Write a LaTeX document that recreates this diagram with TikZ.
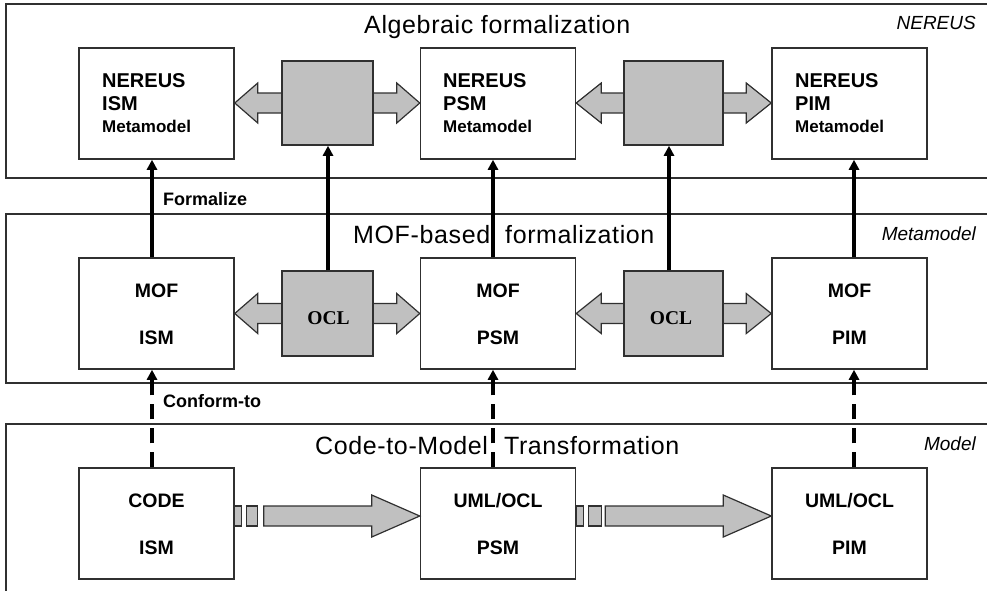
\documentclass[tikz,border=0pt]{standalone}
\usepackage{fontspec}
\setmainfont{Liberation Sans}
\newfontfamily\serifbold{Liberation Serif}
\newfontfamily\titlefont[LetterSpace=2.5]{Liberation Sans}
\usetikzlibrary{arrows.meta,calc}
\definecolor{linec}{HTML}{303030}
\definecolor{grayc}{HTML}{C0C0C0}
\newcommand\dblarr[4]{% left node, right node, gray node, head length
  \draw[garrow] (#1.east |- #3.center) -- ++(#4,-20) -- ++(0,10)
    -- ($(#2.west |- #3.center)+(-#4,-10)$) -- ++(0,-10)
    -- (#2.west |- #3.center) -- ++(-#4,20) -- ++(0,-10)
    -- ($(#1.east |- #3.center)+(#4,10)$) -- ++(0,10) -- cycle;}
\newcommand\blockarr[3]{% left node, right node, sq2 width
  \coordinate (L) at ($(#1.east)+(0,-7.5)$);
  \coordinate (R) at ($(#2.west)+(0,-7.5)$);
  \draw[garrow] ($(L)+(0,-10)$) rectangle ++(7,20);
  \draw[garrow] ($(L)+(12,-10)$) rectangle ++(#3,20);
  \draw[garrow] ($(L)+(29,-10)$) -- ($(R)+(-48,-10)$) -- ++(0,-11) -- (R)
    -- ++(-48,21) -- ++(0,-11) -- ($(L)+(29,10)$) -- cycle;}
\begin{document}
\begin{tikzpicture}[x=1pt,y=-1pt,
  layer/.style={draw=linec, line width=1.6pt},
  box/.style={draw=linec, fill=white, line width=1.5pt, minimum width=155pt, minimum height=111pt, inner sep=0pt},
  gbox/.style={draw=linec, fill=grayc, line width=1.5pt, minimum height=85pt, inner sep=0pt},
  garrow/.style={draw=linec, fill=grayc, line width=1.2pt},
  txt/.style={font=\bfseries\fontsize{20}{22}\selectfont, inner sep=0pt, anchor=base west},
  ctxt/.style={font=\bfseries\fontsize{19.5}{22}\selectfont, inner sep=0pt, anchor=base},
  mtxt/.style={font=\bfseries\fontsize{17}{20}\selectfont, inner sep=0pt, anchor=base west},
  ocl/.style={font=\serifbold\bfseries\fontsize{19.5}{22}\selectfont, inner sep=0pt, anchor=base},
  title/.style={font=\titlefont\fontsize{25}{28}\selectfont, inner sep=0pt, anchor=base west},
  tag/.style={font=\itshape\fontsize{19}{22}\selectfont, inner sep=0pt, anchor=base east},
  elbl/.style={font=\bfseries\fontsize{18}{22}\selectfont, inner sep=0pt, anchor=base west},
  up/.style={-{Triangle[width=10pt,length=10pt]}, line width=3.2pt, black},
  dashup/.style={up, dash pattern=on 15pt off 9pt, line width=3.8pt}]
\useasboundingbox (0,0) rectangle (987,590);
\clip (0,0) rectangle (987,590);
% layers
\draw[layer] (6,4) rectangle (1000,178);
\draw[layer] (6,214) rectangle (1000,383);
\draw[layer] (6,424) rectangle (1000,620);
\node[title] (t1) at (364,33) {Algebraic formalization};
\node[title] (t2) at (353,243) {MOF-based\hspace{15pt}formalization};
\node[title] (t3) at (315,454) {Code-to-Model\hspace{16pt}Transformation};
\node[tag] (g1) at (976,29) {NEREUS};
\node[tag] (g2) at (976,240) {Metamodel};
\node[tag] (g3) at (976,450) {Model};
% boxes
\node[box] (nism) at (156.5,103.5) {};
\node[box] (npsm) at (498,103.5) {};
\node[box] (npim) at (849.5,103.5) {};
\node[box] (mism) at (156.5,313.5) {};
\node[box] (mpsm) at (498,313.5) {};
\node[box] (mpim) at (849.5,313.5) {};
\node[box] (cism) at (156.5,523.5) {};
\node[box] (upsm) at (498,523.5) {};
\node[box] (upim) at (849.5,523.5) {};
% top texts
\node[txt] (a1) at (102,87) {NEREUS};
\node[txt] (a2) at (102,110) {ISM};
\node[mtxt] (a3) at (102,132) {Metamodel};
\node[txt] (b1) at (443,87) {NEREUS};
\node[txt] (b2) at (443,110) {PSM};
\node[mtxt] (b3) at (443,132) {Metamodel};
\node[txt] (c1) at (795,87) {NEREUS};
\node[txt] (c2) at (795,110) {PIM};
\node[mtxt] (c3) at (795,132) {Metamodel};
% middle texts
\node[ctxt] (d1) at (156.5,297) {MOF};
\node[ctxt] (d2) at (156.5,344) {ISM};
\node[ctxt] (e1) at (498,297) {MOF};
\node[ctxt] (e2) at (498,344) {PSM};
\node[ctxt] (f1) at (849.5,297) {MOF};
\node[ctxt] (f2) at (849.5,344) {PIM};
% bottom texts
\node[ctxt] (h1) at (156.5,507) {CODE};
\node[ctxt] (h2) at (156.5,554) {ISM};
\node[ctxt] (i1) at (498,507) {UML/OCL};
\node[ctxt] (i2) at (498,554) {PSM};
\node[ctxt] (j1) at (849.5,507) {UML/OCL};
\node[ctxt] (j2) at (849.5,554) {PIM};
% gray double arrows and boxes
\coordinate (gt1c) at (327.5,103);
\coordinate (gt2c) at (673.5,103);
\coordinate (gm1c) at (327.5,313.5);
\coordinate (gm2c) at (673.5,313.5);
\dblarr{nism}{npsm}{gt1c}{23}
\dblarr{npsm}{npim}{gt2c}{25}
\dblarr{mism}{mpsm}{gm1c}{23}
\dblarr{mpsm}{mpim}{gm2c}{25}
\node[gbox, minimum width=91pt, minimum height=84pt] (gt1) at (gt1c) {};
\node[gbox, minimum width=99pt, minimum height=84pt] (gt2) at (gt2c) {};
\node[gbox, minimum width=91pt] (gm1) at (gm1c) {};
\node[gbox, minimum width=99pt] (gm2) at (gm2c) {};
\node[ocl] (o1) at (328.5,324) {OCL};
\node[ocl] (o2) at (671,324) {OCL};
% block arrows
\blockarr{cism}{upsm}{11}
\blockarr{upsm}{upim}{13}
% vertical arrows
\draw[up] ([xshift=-4.5pt]mism.north) -- ([xshift=-4.5pt]nism.south);
\draw[up] ([xshift=-5pt]mpsm.north) -- ([xshift=-5pt]npsm.south);
\draw[up] ([xshift=4.5pt]mpim.north) -- ([xshift=4.5pt]npim.south);
\draw[up] ([xshift=0.5pt]gm1.north) -- ([xshift=0.5pt]gt1.south);
\draw[up] ([xshift=-4.5pt]gm2.north) -- ([xshift=-4.5pt]gt2.south);
\draw[dashup] ([xshift=-4.5pt]cism.north) -- ([xshift=-4.5pt]mism.south);
\draw[dashup] ([xshift=-5pt]upsm.north) -- ([xshift=-5pt]mpsm.south);
\draw[dashup] ([xshift=4.5pt]upim.north) -- ([xshift=4.5pt]mpim.south);
\node[elbl] (fl) at (163,205) {Formalize};
\node[elbl] (cl) at (163,407) {Conform-to};
\end{tikzpicture}
\end{document}
